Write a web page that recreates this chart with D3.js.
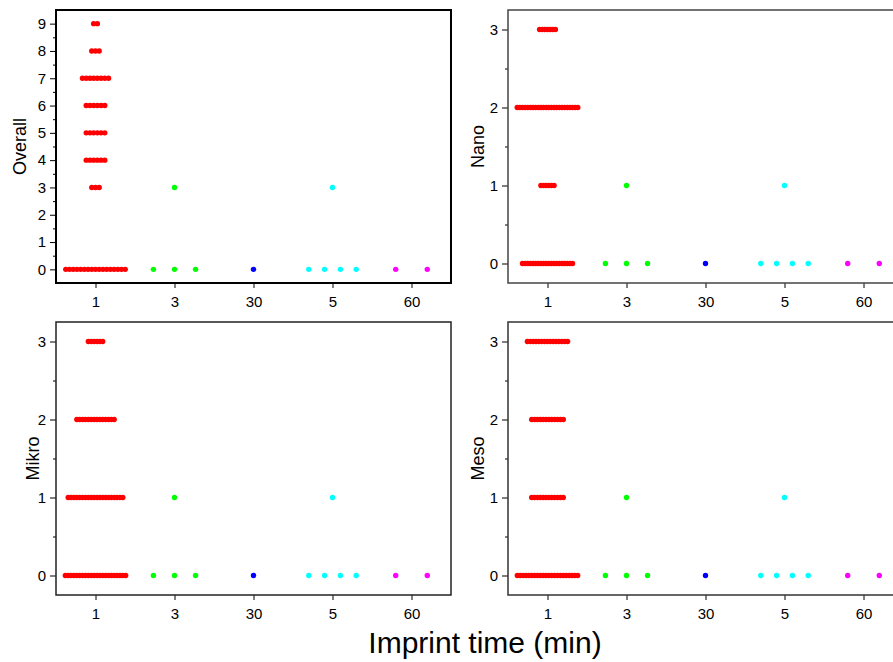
<!DOCTYPE html>
<html>
<head>
<meta charset="utf-8">
<script src="https://cdnjs.cloudflare.com/ajax/libs/d3/7.8.5/d3.min.js"></script>
<style>
body{margin:0;background:#fff;overflow:hidden}
text{font-family:"Liberation Sans",Arial,sans-serif;fill:#000}
</style>
</head>
<body>
<svg width="893" height="662"></svg>
<script>
// imprint time groups (x categories) and their marker colours
var times=['1','3','30','5','60'];
var colors=['#ff0000','#00ff00','#0000ff','#00ffff','#ff00ff'];

// each group: [score, number of samples with that score]
var overall=[
	[[0,17],[3,3],[4,6],[5,6],[6,6],[7,8],[8,3],[9,2]],
	[[0,3],[3,1]],
	[[0,1]],
	[[0,4],[3,1]],
	[[0,2]]
];
var nano=[
	[[0,20],[1,6],[2,24],[3,7]],
	[[0,3],[1,1]],
	[[0,1]],
	[[0,4],[1,1]],
	[[0,2]]
];
var mikro=[
	[[0,22],[1,20],[2,14],[3,6]],
	[[0,3],[1,1]],
	[[0,1]],
	[[0,4],[1,1]],
	[[0,2]]
];
var meso=[
	[[0,22],[1,12],[2,12],[3,15]],
	[[0,3],[1,1]],
	[[0,1]],
	[[0,4],[1,1]],
	[[0,2]]
];

var W=395, H=273;
var panels=[
	{label:'Overall',data:overall,yMax:9,pad:0.5,x:56,y:10,frame:'#000',fw:2,lx:26},
	{label:'Nano',data:nano,yMax:3,pad:0.25,x:508,y:10,frame:'#444',fw:1.5,lx:484},
	{label:'Mikro',data:mikro,yMax:3,pad:0.25,x:56,y:322,frame:'#222',fw:1.5,lx:39},
	{label:'Meso',data:meso,yMax:3,pad:0.25,x:508,y:322,frame:'#333',fw:1.5,lx:484}
];

var svg=d3.select('svg');

panels.forEach(function(p){
	var g=svg.append('g').attr('transform','translate('+p.x+','+p.y+')');
	var x=d3.scalePoint().domain(times).range([0,W]).padding(0.5);
	var y=d3.scaleLinear().domain([-p.pad,p.yMax+p.pad]).range([H,0]);
	var step=x.step();

	// x axis
	var xa=g.append('g').attr('transform','translate(0,'+H+')')
		.call(d3.axisBottom(x).tickSize(5).tickPadding(8));
	// y axis, major + minor
	var ya=g.append('g').call(d3.axisLeft(y).tickValues(d3.range(0,p.yMax+1)).tickSize(6).tickPadding(4).tickFormat(d3.format('d')));
	var ym=g.append('g').call(d3.axisLeft(y).tickValues(d3.range(0.5,p.yMax,1)).tickSize(3).tickFormat(''));
	[xa,ya,ym].forEach(function(a){
		a.select('.domain').remove();
		a.selectAll('.tick line').attr('stroke','#000').attr('stroke-width',1);
		a.selectAll('text').attr('font-size',15).attr('font-family','"Liberation Sans", Arial, sans-serif');
	});

	// points, spread evenly across the column
	var pts=[];
	p.data.forEach(function(group,gi){
		var maxN=d3.max(group,function(d){return d[1];});
		var sp=step*0.8/maxN;
		group.forEach(function(d){
			for(var i=0;i<d[1];i++){
				pts.push({t:times[gi],v:d[0],off:(i-(d[1]-1)/2)*sp,c:colors[gi]});
			}
		});
	});
	g.append('g').selectAll('circle').data(pts).enter().append('circle')
		.attr('cx',function(d){return x(d.t)+d.off;})
		.attr('cy',function(d){return y(d.v);})
		.attr('r',2.7)
		.attr('fill',function(d){return d.c;});

	// frame
	g.append('rect').attr('width',W).attr('height',H)
		.attr('fill','none').attr('stroke',p.frame).attr('stroke-width',p.fw);

	// y label
	svg.append('text')
		.attr('transform','translate('+p.lx+','+(p.y+H/2)+') rotate(-90)')
		.attr('text-anchor','middle').attr('font-size',18)
		.text(p.label);
});

svg.append('text').attr('x',485).attr('y',653).attr('text-anchor','middle')
	.attr('font-size',30).text('Imprint time (min)');
</script>
</body>
</html>
